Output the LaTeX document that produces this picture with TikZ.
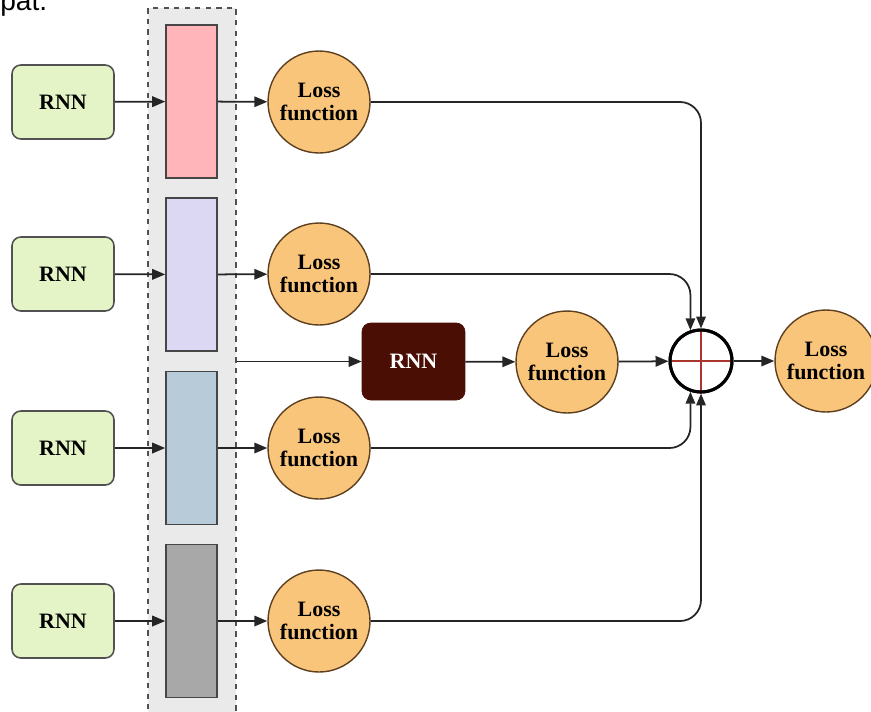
\documentclass[tikz,border=0pt]{standalone}
\usepackage{fontspec}
\setmainfont{Liberation Serif}
\newfontfamily\capfont{Liberation Sans}
\usepackage{xcolor}
\definecolor{LFgreen}{HTML}{E4F4C6}
\definecolor{LForange}{HTML}{F9C57A}
\definecolor{LFbrown}{HTML}{5E4020}
\definecolor{LFdark}{HTML}{4B0E05}
\definecolor{LFpanel}{HTML}{EAEAEB}
\definecolor{LFpink}{HTML}{FFB5BA}
\definecolor{LFlav}{HTML}{DCD8F4}
\definecolor{LFblue}{HTML}{B8CBD8}
\definecolor{LFgrey}{HTML}{A8A8A8}
\definecolor{LFred}{HTML}{A8352E}
\definecolor{LFline}{HTML}{252525}
\usetikzlibrary{arrows.meta}

\begin{document}
\begin{tikzpicture}[x=0.02cm,y=-0.02cm,
  rnnbox/.style={draw=LFline!80,rounded corners=5pt,fill=LFgreen,line width=0.9pt,
    minimum width=2.04cm,minimum height=1.48cm,font=\bfseries\fontsize{12.5}{13}\selectfont},
  darkbox/.style={draw=LFdark,rounded corners=5pt,fill=LFdark,text=white,
    minimum width=2.06cm,minimum height=1.54cm,font=\bfseries\fontsize{12.5}{13}\selectfont},
  bar/.style={draw=LFline!85,line width=0.9pt,minimum width=1.02cm,minimum height=3.06cm},
  loss/.style={circle,draw=LFbrown,fill=LForange,line width=0.8pt,minimum size=2.04cm,
    inner sep=0pt,align=center,font=\bfseries\fontsize{12.5}{13.5}\selectfont},
  sumnode/.style={circle,draw=black,line width=1.7pt,minimum size=1.24cm,inner sep=0pt},
  edge/.style={-{Triangle[length=2.6mm,width=2.1mm]},draw=LFline,line width=1pt},
  link/.style={draw=LFline,line width=1pt,rounded corners=0.42cm}]
\useasboundingbox (0,0) rectangle (871,711);
\node[anchor=base west,inner sep=0pt,font=\capfont\fontsize{16}{18}\selectfont] (caption) at (0,10) {pat.};
% shared feature panel
\node[draw=LFline!80,dashed,fill=LFpanel,line width=0.9pt,minimum width=1.76cm,
  minimum height=14.4cm,inner sep=0pt] (panel) at (192,368) {};
\node[bar,fill=LFpink] (barA) at (191.5,101.5) {};
\node[bar,fill=LFlav] (barB) at (191.5,274.5) {};
\node[bar,fill=LFblue] (barC) at (191.5,448) {};
\node[bar,fill=LFgrey] (barD) at (191.5,621) {};
% input networks
\node[rnnbox] (rnnA) at (63,102) {RNN};
\node[rnnbox] (rnnB) at (63,274) {RNN};
\node[rnnbox] (rnnC) at (63,448) {RNN};
\node[rnnbox] (rnnD) at (63,621) {RNN};
% losses
\node[loss] (lossA) at (319,102) {Loss\\function};
\node[loss] (lossB) at (319,274) {Loss\\function};
\node[loss] (lossC) at (319,448) {Loss\\function};
\node[loss] (lossD) at (319,621) {Loss\\function};
\node[darkbox] (rnnM) at (413.5,361.5) {RNN};
\node[loss] (lossM) at (567,362) {Loss\\function};
\node[sumnode] (sum) at (701,361) {};
\node[loss] (lossOut) at (826,361) {Loss\\function};
\draw[LFred,line width=1.3pt,shorten <=0.8pt,shorten >=0.8pt] (sum.north) -- (sum.south) (sum.west) -- (sum.east);
\node[sumnode] at (sum) {};
\draw[edge] (rnnA) -- (barA);
\draw[edge] (rnnB) -- (barB);
\draw[edge] (rnnC) -- (barC);
\draw[edge] (rnnD) -- (barD);
\draw[edge] (barA) -- (lossA);
\draw[edge] (barB) -- (lossB);
\draw[edge] (barC) -- (lossC);
\draw[edge] (barD) -- (lossD);
\draw[edge] (panel.east |- rnnM.west) -- (rnnM);
\draw[edge] (rnnM) -- (lossM);
\draw[edge] (lossM) -- (sum);
\draw[edge] (sum) -- (lossOut);
% into the sum
\draw[link,-{Triangle[length=2.4mm,width=1.9mm]}] (lossA.east) -| (sum.north);
\draw[link,-{Triangle[length=2.4mm,width=1.9mm]}] (lossB.east) -| (sum.109);
\draw[link,-{Triangle[length=2.4mm,width=1.9mm]}] (lossC.east) -| (sum.251);
\draw[link,-{Triangle[length=2.4mm,width=1.9mm]}] (lossD.east) -| (sum.south);
\end{tikzpicture}
\end{document}
